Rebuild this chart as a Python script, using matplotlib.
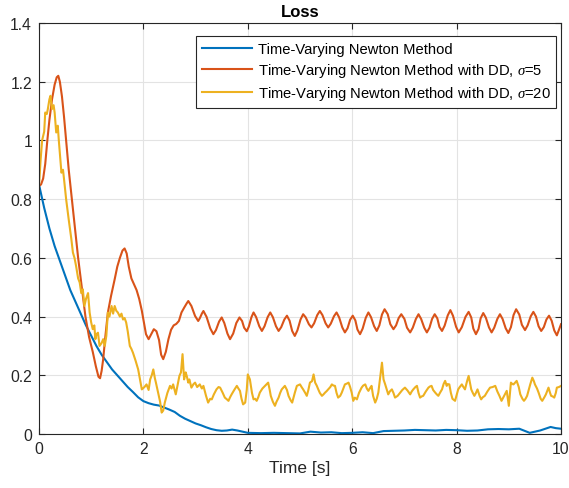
import numpy as np
import matplotlib.pyplot as plt
from matplotlib.ticker import FuncFormatter

plt.rcParams['font.family'] = ['Liberation Sans', 'DejaVu Sans']
plt.rcParams['mathtext.fontset'] = 'custom'
plt.rcParams['mathtext.it'] = 'Liberation Serif:italic'

# (time, loss)
newton = [(0.0, 0.85), (0.1, 0.77), (0.2, 0.70), (0.3, 0.64), (0.4, 0.59), (0.5, 0.54),
          (0.6, 0.49), (0.7, 0.45), (0.8, 0.41), (0.9, 0.37), (1.0, 0.335), (1.1, 0.30),
          (1.2, 0.27), (1.3, 0.245), (1.4, 0.22), (1.5, 0.20), (1.6, 0.18), (1.7, 0.16),
          (1.8, 0.143), (1.9, 0.125), (2.0, 0.112), (2.1, 0.105), (2.2, 0.10), (2.3, 0.097),
          (2.4, 0.09), (2.5, 0.083), (2.6, 0.075), (2.7, 0.062), (2.8, 0.052), (2.9, 0.044),
          (3.0, 0.036), (3.1, 0.03), (3.2, 0.023), (3.3, 0.017), (3.4, 0.013), (3.5, 0.011),
          (3.6, 0.012), (3.7, 0.015), (3.8, 0.012), (3.9, 0.008), (4.0, 0.004), (4.25, 0.003),
          (4.5, 0.004), (4.75, 0.003), (5.0, 0.002), (5.2, 0.008), (5.4, 0.005), (5.6, 0.006),
          (5.8, 0.003), (6.0, 0.004), (6.2, 0.006), (6.4, 0.003), (6.6, 0.01), (6.8, 0.011),
          (7.0, 0.012), (7.2, 0.014), (7.4, 0.013), (7.6, 0.012), (7.8, 0.014), (8.0, 0.013),
          (8.2, 0.011), (8.4, 0.012), (8.6, 0.016), (8.8, 0.017), (9.0, 0.016), (9.2, 0.018),
          (9.4, 0.004), (9.6, 0.012), (9.8, 0.024), (9.9, 0.02), (10.0, 0.018)]

dd_sigma5 = [(0.0, 0.845), (0.04, 0.85), (0.08, 0.87), (0.12, 0.92), (0.16, 1.0), (0.2, 1.07),
             (0.25, 1.14), (0.3, 1.19), (0.34, 1.215), (0.37, 1.22), (0.4, 1.2), (0.44, 1.15),
             (0.48, 1.08), (0.52, 1.0), (0.57, 0.9), (0.63, 0.8), (0.69, 0.7), (0.75, 0.6),
             (0.82, 0.5), (0.89, 0.4), (0.96, 0.33), (1.03, 0.28), (1.09, 0.23), (1.14, 0.195),
             (1.17, 0.19), (1.2, 0.215), (1.23, 0.255), (1.27, 0.33), (1.32, 0.414), (1.38, 0.47),
             (1.45, 0.527), (1.5, 0.57), (1.55, 0.6), (1.6, 0.625), (1.64, 0.632), (1.68, 0.615),
             (1.72, 0.57), (1.77, 0.53), (1.82, 0.51), (1.87, 0.49), (1.92, 0.46), (1.97, 0.42),
             (2.01, 0.38), (2.05, 0.34), (2.1, 0.323), (2.15, 0.34), (2.2, 0.357), (2.25, 0.35),
             (2.3, 0.32), (2.34, 0.27), (2.38, 0.255), (2.43, 0.28), (2.48, 0.323), (2.53, 0.355),
             (2.58, 0.37), (2.63, 0.375), (2.68, 0.385), (2.73, 0.414), (2.78, 0.43), (2.83, 0.445),
             (2.86, 0.453), (2.92, 0.436), (2.99, 0.402), (3.05, 0.385), (3.08, 0.394), (3.12, 0.41),
             (3.15, 0.419), (3.21, 0.399), (3.28, 0.36), (3.34, 0.340), (3.39, 0.354), (3.45, 0.383),
             (3.50, 0.397), (3.55, 0.378), (3.61, 0.342), (3.66, 0.323), (3.72, 0.342), (3.78, 0.378),
             (3.84, 0.397), (3.89, 0.385), (3.93, 0.362), (3.98, 0.350), (4.02, 0.366), (4.07, 0.398),
             (4.11, 0.414), (4.16, 0.398), (4.22, 0.367), (4.27, 0.351), (4.32, 0.367), (4.38, 0.398),
             (4.43, 0.414), (4.48, 0.398), (4.54, 0.367), (4.59, 0.351), (4.64, 0.364), (4.70, 0.39),
             (4.75, 0.403), (4.80, 0.386), (4.85, 0.351), (4.90, 0.334), (4.95, 0.353), (5.01, 0.39),
             (5.06, 0.408), (5.11, 0.397), (5.17, 0.374), (5.22, 0.363), (5.27, 0.377), (5.33, 0.405),
             (5.38, 0.419), (5.43, 0.405), (5.49, 0.377), (5.54, 0.363), (5.59, 0.376), (5.65, 0.401),
             (5.70, 0.414), (5.75, 0.397), (5.81, 0.363), (5.86, 0.346), (5.91, 0.36), (5.96, 0.389),
             (6.01, 0.403), (6.06, 0.387), (6.10, 0.356), (6.15, 0.340), (6.20, 0.359), (6.26, 0.396),
             (6.31, 0.414), (6.36, 0.398), (6.42, 0.367), (6.47, 0.351), (6.52, 0.37), (6.57, 0.407),
             (6.62, 0.425), (6.68, 0.408), (6.73, 0.374), (6.79, 0.357), (6.84, 0.37), (6.89, 0.395),
             (6.94, 0.408), (7.0, 0.392), (7.05, 0.362), (7.11, 0.346), (7.16, 0.362), (7.22, 0.392),
             (7.27, 0.408), (7.32, 0.392), (7.38, 0.362), (7.43, 0.346), (7.48, 0.362), (7.53, 0.392),
             (7.58, 0.408), (7.63, 0.394), (7.67, 0.365), (7.72, 0.351), (7.77, 0.369), (7.83, 0.404),
             (7.88, 0.422), (7.93, 0.403), (7.99, 0.365), (8.04, 0.346), (8.10, 0.364), (8.17, 0.399),
             (8.23, 0.416), (8.28, 0.397), (8.32, 0.359), (8.37, 0.340), (8.42, 0.358), (8.46, 0.394),
             (8.51, 0.412), (8.56, 0.396), (8.62, 0.363), (8.67, 0.346), (8.72, 0.362), (8.78, 0.392),
             (8.83, 0.408), (8.88, 0.392), (8.94, 0.36), (8.99, 0.344), (9.04, 0.364), (9.09, 0.405),
             (9.14, 0.425), (9.20, 0.407), (9.25, 0.372), (9.31, 0.354), (9.36, 0.37), (9.42, 0.401),
             (9.47, 0.416), (9.52, 0.4), (9.57, 0.367), (9.62, 0.351), (9.67, 0.364), (9.72, 0.39),
             (9.77, 0.403), (9.82, 0.386), (9.87, 0.353), (9.92, 0.336), (9.96, 0.355), (10.0, 0.374)]

dd_sigma20 = [(0.0, 0.845), (0.03, 0.93), (0.06, 1.0), (0.1, 1.03), (0.12, 1.095), (0.15, 1.09),
              (0.17, 1.107), (0.2, 1.14), (0.22, 1.152), (0.25, 1.107), (0.28, 1.12), (0.3, 1.095),
              (0.33, 1.027), (0.36, 1.05), (0.38, 1.0), (0.43, 0.89), (0.46, 0.90), (0.48, 0.868),
              (0.52, 0.80), (0.57, 0.73), (0.62, 0.664), (0.65, 0.618), (0.68, 0.60), (0.71, 0.573),
              (0.75, 0.53), (0.78, 0.516), (0.81, 0.48), (0.84, 0.493), (0.87, 0.436), (0.9, 0.46),
              (0.94, 0.48), (0.97, 0.414), (1.0, 0.38), (1.03, 0.357), (1.06, 0.37), (1.08, 0.323),
              (1.1, 0.34), (1.13, 0.345), (1.16, 0.30), (1.2, 0.31), (1.23, 0.323), (1.26, 0.30),
              (1.29, 0.334), (1.32, 0.414), (1.35, 0.40), (1.39, 0.436), (1.42, 0.41), (1.45, 0.436),
              (1.48, 0.42), (1.51, 0.414), (1.55, 0.40), (1.58, 0.41), (1.61, 0.39), (1.64, 0.395),
              (1.67, 0.38), (1.7, 0.35), (1.74, 0.30), (1.77, 0.29), (1.80, 0.277), (1.85, 0.25),
              (1.9, 0.22), (1.93, 0.19), (1.97, 0.152), (2.02, 0.16), (2.06, 0.169), (2.1, 0.15),
              (2.13, 0.186), (2.16, 0.20), (2.19, 0.22), (2.22, 0.19), (2.24, 0.175), (2.29, 0.135),
              (2.32, 0.11), (2.35, 0.073), (2.38, 0.08), (2.41, 0.107), (2.46, 0.14), (2.51, 0.164),
              (2.54, 0.155), (2.57, 0.169), (2.62, 0.135), (2.66, 0.17), (2.69, 0.198), (2.72, 0.21),
              (2.75, 0.272), (2.78, 0.186), (2.81, 0.21), (2.83, 0.198), (2.86, 0.175), (2.88, 0.186),
              (2.92, 0.158), (2.96, 0.17), (2.99, 0.175), (3.03, 0.16), (3.08, 0.169), (3.12, 0.155),
              (3.15, 0.164), (3.2, 0.13), (3.24, 0.107), (3.28, 0.12), (3.31, 0.118), (3.35, 0.135),
              (3.40, 0.152), (3.44, 0.16), (3.47, 0.158), (3.52, 0.14), (3.56, 0.124), (3.6, 0.118),
              (3.63, 0.113), (3.66, 0.125), (3.69, 0.135), (3.74, 0.15), (3.79, 0.164), (3.82, 0.155),
              (3.85, 0.147), (3.88, 0.12), (3.91, 0.101), (3.95, 0.107), (3.98, 0.15), (4.0, 0.203),
              (4.04, 0.186), (4.08, 0.14), (4.11, 0.118), (4.14, 0.12), (4.17, 0.113), (4.20, 0.125),
              (4.23, 0.141), (4.28, 0.155), (4.33, 0.164), (4.39, 0.175), (4.42, 0.15), (4.44, 0.130),
              (4.48, 0.11), (4.52, 0.096), (4.55, 0.11), (4.59, 0.124), (4.62, 0.14), (4.65, 0.152),
              (4.71, 0.164), (4.75, 0.15), (4.78, 0.130), (4.82, 0.115), (4.85, 0.107), (4.9, 0.14),
              (4.94, 0.164), (5.0, 0.169), (5.03, 0.16), (5.06, 0.152), (5.1, 0.14), (5.13, 0.130),
              (5.16, 0.15), (5.19, 0.175), (5.23, 0.18), (5.26, 0.203), (5.29, 0.175), (5.32, 0.165),
              (5.35, 0.152), (5.38, 0.14), (5.42, 0.130), (5.45, 0.135), (5.48, 0.141), (5.51, 0.146),
              (5.54, 0.152), (5.58, 0.16), (5.61, 0.169), (5.64, 0.165), (5.67, 0.164), (5.70, 0.14),
              (5.73, 0.124), (5.77, 0.13), (5.80, 0.141), (5.83, 0.155), (5.86, 0.169), (5.9, 0.172),
              (5.93, 0.175), (5.96, 0.16), (5.99, 0.141), (6.02, 0.113), (6.05, 0.124), (6.09, 0.118),
              (6.13, 0.14), (6.18, 0.158), (6.21, 0.165), (6.25, 0.169), (6.28, 0.155), (6.31, 0.147),
              (6.34, 0.156), (6.37, 0.164), (6.40, 0.13), (6.44, 0.107), (6.47, 0.12), (6.50, 0.141),
              (6.54, 0.20), (6.57, 0.243), (6.60, 0.186), (6.63, 0.17), (6.65, 0.158), (6.69, 0.135),
              (6.72, 0.145), (6.76, 0.152), (6.79, 0.14), (6.82, 0.124), (6.87, 0.13), (6.92, 0.141),
              (6.96, 0.15), (7.01, 0.158), (7.06, 0.148), (7.11, 0.135), (7.14, 0.145), (7.17, 0.152),
              (7.21, 0.16), (7.24, 0.164), (7.27, 0.14), (7.30, 0.124), (7.33, 0.128), (7.36, 0.130),
              (7.41, 0.145), (7.46, 0.158), (7.49, 0.162), (7.52, 0.164), (7.55, 0.15), (7.59, 0.141),
              (7.62, 0.135), (7.65, 0.130), (7.68, 0.14), (7.72, 0.152), (7.75, 0.17), (7.78, 0.181),
              (7.81, 0.164), (7.83, 0.17), (7.86, 0.169), (7.89, 0.14), (7.92, 0.12), (7.97, 0.113),
              (8.03, 0.152), (8.06, 0.16), (8.10, 0.169), (8.13, 0.16), (8.16, 0.152), (8.20, 0.18),
              (8.23, 0.198), (8.26, 0.17), (8.28, 0.152), (8.31, 0.14), (8.34, 0.130), (8.37, 0.14),
              (8.40, 0.152), (8.44, 0.13), (8.47, 0.118), (8.5, 0.125), (8.54, 0.130), (8.59, 0.145),
              (8.64, 0.158), (8.69, 0.16), (8.74, 0.164), (8.78, 0.145), (8.82, 0.130), (8.86, 0.113),
              (8.91, 0.13), (8.96, 0.147), (9.0, 0.096), (9.04, 0.175), (9.07, 0.17), (9.09, 0.169),
              (9.12, 0.175), (9.15, 0.181), (9.19, 0.16), (9.22, 0.135), (9.26, 0.12), (9.29, 0.113),
              (9.32, 0.12), (9.35, 0.130), (9.38, 0.15), (9.41, 0.169), (9.45, 0.192), (9.48, 0.18),
              (9.50, 0.169), (9.54, 0.155), (9.57, 0.141), (9.61, 0.12), (9.64, 0.113), (9.68, 0.125),
              (9.71, 0.135), (9.76, 0.158), (9.79, 0.14), (9.81, 0.130), (9.84, 0.128), (9.87, 0.124),
              (9.90, 0.14), (9.92, 0.158), (9.96, 0.16), (10.0, 0.164)]

labels = ['Time-Varying Newton Method',
          r'Time-Varying Newton Method with DD, $\sigma$=5',
          r'Time-Varying Newton Method with DD, $\sigma$=20']
colors = ['#0072BD', '#D95319', '#EDB120']
xticks = [0, 2, 4, 6, 8, 10]
yticks = [0, 0.2, 0.4, 0.6, 0.8, 1.0, 1.2, 1.4]

fig = plt.figure(figsize=(5.69, 4.89), dpi=100)
ax = fig.add_axes([0.0685, 0.1104, 0.9175, 0.8406])

for series, lab, col in zip([newton, dd_sigma5, dd_sigma20], labels, colors):
    t, y = np.array(series).T
    ax.plot(t, y, color=col, lw=1.5, label=lab)

ax.set_xlim(0, 10)
ax.set_ylim(0, 1.4)
ax.set_xticks(xticks)
ax.set_yticks(yticks)
ax.yaxis.set_major_formatter(FuncFormatter(lambda v, p: f'{v:g}'))
ax.grid(True, color='#e3e3e3', lw=0.8)
ax.set_axisbelow(True)
for s in ax.spines.values():
    s.set_color('#262626')
    s.set_linewidth(0.8)
ax.tick_params(direction='in', top=True, right=True, length=4, width=0.8,
               color='#262626', labelcolor='#262626', labelsize=11.3, pad=5)

ax.set_xlabel('Time [s]', fontsize=12.5, color='#262626', labelpad=3)
ax.set_title('Loss', fontsize=12, fontweight='bold', pad=5)

leg = ax.legend(loc='upper right', bbox_to_anchor=(0.991, 0.968), borderaxespad=0,
                fontsize=10.6, fancybox=False, framealpha=1, edgecolor='#262626',
                handlelength=3.4, handletextpad=0.4, labelspacing=0.35, borderpad=0.4)
leg.get_frame().set_linewidth(0.8)

fig.savefig('out.png', dpi=100)
